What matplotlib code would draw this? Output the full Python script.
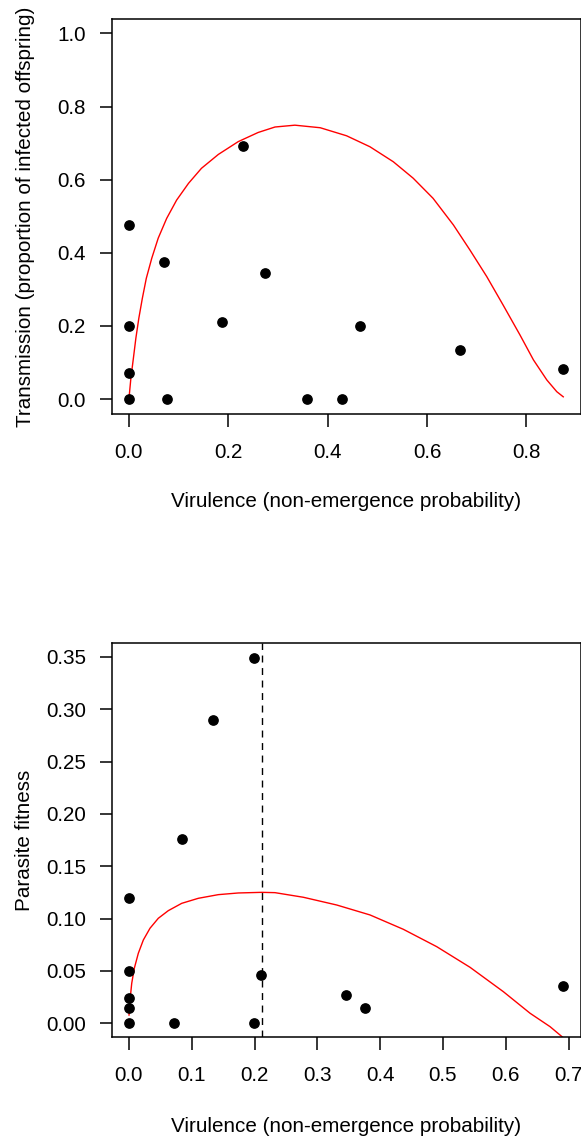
import matplotlib
matplotlib.use("Agg")
import matplotlib.pyplot as plt

plt.rcParams['font.family'] = ['Liberation Sans', 'DejaVu Sans']
plt.rcParams['font.size'] = 14.9

# ---------------- data ----------------
# top panel: transmission vs virulence
top_x = [0.0, 0.0, 0.0, 0.0, 0.0714, 0.0773, 0.187, 0.230, 0.273,
         0.358, 0.429, 0.466, 0.666, 0.874]
top_y = [0.477, 0.200, 0.070, 0.0, 0.374, 0.0, 0.210, 0.692, 0.344,
         0.0, 0.0, 0.200, 0.133, 0.083]

# fitted curve (red)
top_fit_x = [0.0, 0.0002, 0.004, 0.009, 0.014, 0.020, 0.027, 0.035, 0.046,
             0.059, 0.076, 0.096, 0.120, 0.146, 0.180, 0.220, 0.260, 0.294,
             0.334, 0.385, 0.438, 0.485, 0.532, 0.572, 0.612, 0.653, 0.686,
             0.720, 0.753, 0.787, 0.814, 0.841, 0.861, 0.874]
top_fit_y = [0.0, 0.002, 0.057, 0.111, 0.166, 0.221, 0.275, 0.330, 0.385,
             0.440, 0.494, 0.544, 0.590, 0.631, 0.669, 0.704, 0.729, 0.744,
             0.749, 0.742, 0.720, 0.690, 0.649, 0.604, 0.549, 0.476, 0.408,
             0.335, 0.257, 0.175, 0.107, 0.052, 0.020, 0.006]

# bottom panel: parasite fitness vs virulence
bot_x = [0.1994, 0.1333, 0.0838, 0.0, 0.0, 0.0, 0.0, 0.0, 0.0718,
         0.1997, 0.2104, 0.345, 0.3755, 0.6917]
bot_y = [0.349, 0.290, 0.176, 0.120, 0.0503, 0.0245, 0.0146, 0.0, 0.0,
         0.0, 0.0459, 0.0267, 0.0146, 0.0353]

bot_fit_x = [0.0002, 0.0018, 0.0045, 0.0086, 0.015, 0.023, 0.0336, 0.0468,
             0.0627, 0.0841, 0.1105, 0.1424, 0.1742, 0.2115, 0.2326, 0.2777,
             0.3309, 0.3839, 0.4369, 0.4901, 0.5431, 0.5962, 0.6387, 0.6705,
             0.6908]
bot_fit_y = [0.0079, 0.0223, 0.0382, 0.0525, 0.0669, 0.0796, 0.0908, 0.1003,
             0.1076, 0.1146, 0.1194, 0.1229, 0.1245, 0.1251, 0.1248, 0.1204,
             0.1130, 0.1035, 0.0898, 0.0732, 0.0535, 0.0302, 0.0096, -0.0032,
             -0.0134]

optimum_x = 0.2114

top_xticks = [0.0, 0.2, 0.4, 0.6, 0.8]
top_yticks = [0.0, 0.2, 0.4, 0.6, 0.8, 1.0]
bot_xticks = [0.0, 0.1, 0.2, 0.3, 0.4, 0.5, 0.6, 0.7]
bot_yticks = [0.0, 0.05, 0.10, 0.15, 0.20, 0.25, 0.30, 0.35]

xlabel = "Virulence (non-emergence probability)"

# ---------------- figure ----------------
W, H = 581, 1139
fig = plt.figure(figsize=(W / 100, H / 100), dpi=100)


def px_axes(left, top, right, bottom):
    return fig.add_axes([left / W, 1 - bottom / H, (right - left) / W, (bottom - top) / H])


ax1 = px_axes(111.5, 19.3, 580.5, 414)
ax2 = px_axes(111.5, 643.3, 580.5, 1036.7)

for ax in (ax1, ax2):
    for s in ax.spines.values():
        s.set_linewidth(1.1)
    ax.tick_params(direction='out', length=9, width=1.1, labelsize=14.9)
    ax.tick_params(axis='y', pad=9.3)
    ax.tick_params(axis='x', pad=12)

# top
ax1.plot(top_fit_x, top_fit_y, color='red', lw=1.0)
ax1.plot(top_x, top_y, 'o', color='black', markersize=6.7, clip_on=False)
ax1.set_xlim(-0.035, 0.9087)
ax1.set_ylim(-0.041, 1.0386)
ax1.set_xticks(top_xticks)
ax1.set_xticklabels(["%.1f" % v for v in top_xticks])
ax1.set_yticks(top_yticks)
ax1.set_yticklabels(["%.1f" % v for v in top_yticks])

# bottom
ax2.plot(bot_fit_x, bot_fit_y, color='red', lw=1.0)
ax2.axvline(optimum_x, color='black', lw=1.0, dashes=(5, 4))
ax2.plot(bot_x, bot_y, 'o', color='black', markersize=6.7, clip_on=False)
ax2.set_xlim(-0.0277, 0.719)
ax2.set_ylim(-0.0128, 0.363)
ax2.set_xticks(bot_xticks)
ax2.set_xticklabels(["%.1f" % v for v in bot_xticks])
ax2.set_yticks(bot_yticks)
ax2.set_yticklabels(["%.2f" % v for v in bot_yticks])

fig.text(346 / W, 1 - 501.7 / H, xlabel, ha='center', va='center')
fig.text(346 / W, 1 - 1126.7 / H, xlabel, ha='center', va='center')
fig.text(26 / W, 1 - 216.7 / H, "Transmission (proportion of infected offspring)",
         rotation=90, ha='center', va='center')
fig.text(25 / W, 1 - 840 / H, "Parasite fitness", rotation=90, ha='center', va='center')

fig.savefig("out.png", dpi=100)
